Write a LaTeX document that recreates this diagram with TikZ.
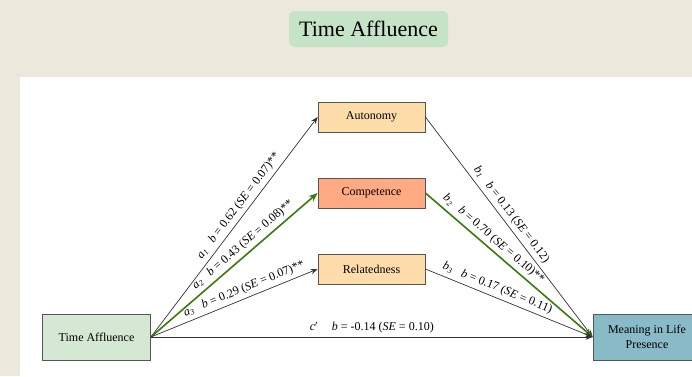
\documentclass[tikz,border=0pt]{standalone}
\usepackage{fontspec}
\setmainfont{Liberation Serif}
\usepackage{xcolor}
\usepackage{tikz}
\usetikzlibrary{positioning,arrows.meta}

\definecolor{paper}{RGB}{236,232,220}
\definecolor{titlegreen}{RGB}{197,227,198}
\definecolor{tagreen}{RGB}{213,232,212}
\definecolor{medpeach}{RGB}{255,221,170}
\definecolor{medsalmon}{RGB}{255,170,130}
\definecolor{outblue}{RGB}{137,186,199}
\definecolor{pathgreen}{RGB}{61,122,14}
\definecolor{boxline}{RGB}{85,85,85}

\newcommand{\coef}[2]{\textit{#1}\textsubscript{\textit{#2}}}

\begin{document}
\begin{tikzpicture}[x=1pt, y=-1pt, >={Stealth[length=7pt,width=5.5pt]},
  font=\fontsize{12}{15}\selectfont,
  box/.style={draw=boxline, line width=0.8pt, inner sep=2pt, align=center},
  mediator/.style={box, fill=medpeach, minimum width=107pt, minimum height=30pt},
  mediator 2/.style={fill=medsalmon},
  endpoint/.style={box, minimum width=108pt, minimum height=46pt},
  titlebox/.style={fill=titlegreen, rounded corners=6pt, minimum width=159pt,
    minimum height=36pt, font=\fontsize{22}{26}\selectfont},
  path/.style={->, draw=black!80, line width=0.7pt},
  path 2/.style={draw=pathgreen, line width=1.6pt, >={Stealth[length=9pt,width=7pt]}},
  coeff/.style={sloped, above=1.5pt, inner sep=2pt}]

% page and panel
\useasboundingbox (0,0) rectangle (692,376);
\fill [paper] (0,0) rectangle (692,376);
\fill [white] (20,77) rectangle (692,376);

\node [titlebox] (title) at (368.5,29) {Time Affluence};

% nodes
\node [endpoint, fill=tagreen] (ta) at (96.5,337) {Time Affluence};
\node [endpoint, fill=outblue] (mlp) at (647,337) {Meaning in Life\\Presence};

\foreach \m [count=\y] in {Autonomy,Competence,Relatedness}
  \node [mediator, mediator \y/.try] (med-\y) at (371.5,41+76*\y) {\m};

% a paths
\foreach \i/\p/\b/\se in {1/0.57/0.62/0.07, 2/0.59/0.43/0.08, 3/0.58/0.29/0.07}
  \draw [path, path \i/.try] (ta.east) -- (med-\i.west)
    node [coeff, pos=\p] {\coef{a}{\i}\hspace{9pt}\textit{b} = \b\ (\textit{SE} = \se)**};

% b paths
\foreach \i/\p/\b/\se/\s in {1/0.47/0.13/0.12/{}, 2/0.37/0.70/0.10/**, 3/0.41/0.17/0.11/{}}
  \draw [path, path \i/.try] (med-\i.east) -- (mlp.west)
    node [coeff, pos=\p] {\coef{b}{\i}\hspace{9pt}\textit{b} = \b\ (\textit{SE} = \se)\s};

% direct path
\draw [path] (ta.east) -- (mlp.west)
  node [coeff, pos=0.5] {\textit{c}$'$\hspace{14pt}\textit{b} = -0.14 (\textit{SE} = 0.10)};

\end{tikzpicture}
\end{document}
